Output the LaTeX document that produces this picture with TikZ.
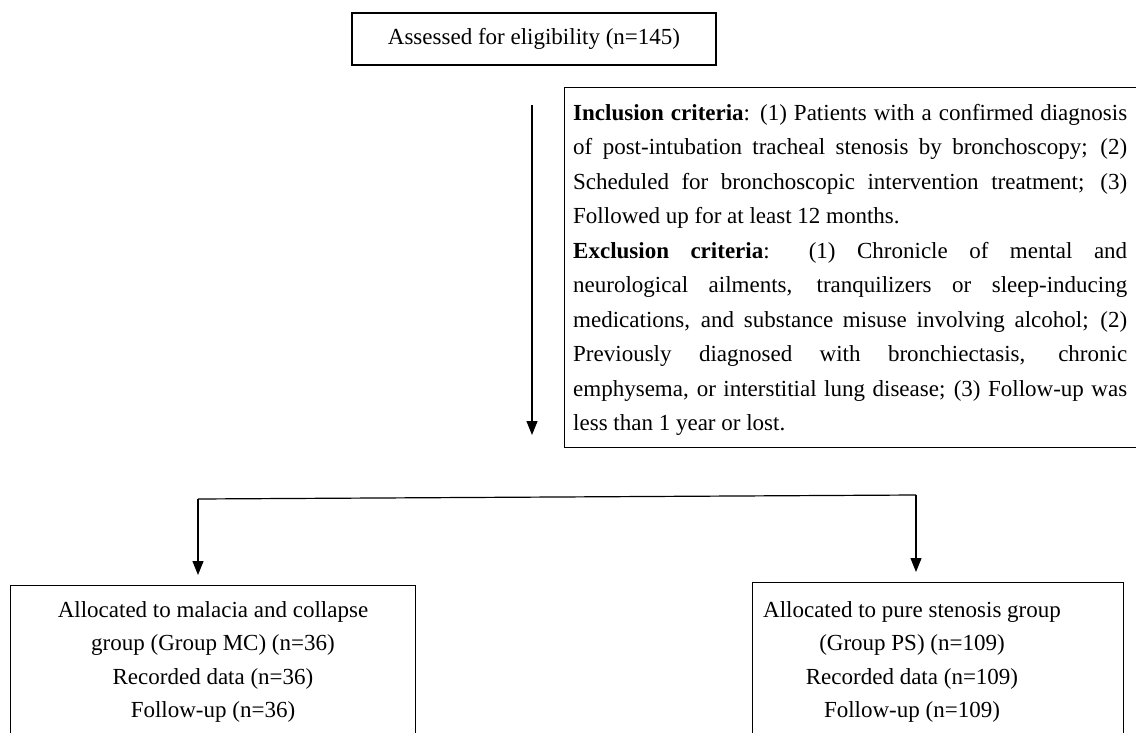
\documentclass[tikz,border=0pt]{standalone}
\usepackage{fontspec}
\setmainfont{Liberation Serif}
\usetikzlibrary{arrows.meta}
\tikzset{
  boxline/.style={draw=black, line width=1.4pt, inner sep=0pt},
  arr/.style={draw=black, line width=1.2pt, -{Triangle[length=14pt,width=11pt]}},
  conn/.style={draw=black, line width=1.2pt},
  txt/.style={inner sep=0pt, font=\fontsize{23}{33.5}\selectfont},
  crit/.style={inner sep=0pt, align=left, font=\fontsize{23}{34.5}\selectfont}
}
\newcommand{\jline}[1]{\makebox[554pt][s]{#1}}
\newcommand{\lline}[1]{\makebox[554pt][l]{#1}}
\begin{document}
\begin{tikzpicture}[x=1pt,y=-1pt]
\useasboundingbox (0,0) rectangle (1136,733);
\clip (0,0) rectangle (1136,733);
\fill[white] (0,0) rectangle (1136,733);

% top box
\node[boxline, minimum width=364pt, minimum height=52pt, font=\fontsize{23}{33.5}\selectfont] (assess) at (534,39) {Assessed for eligibility (n=145)};

% criteria box
\node[boxline, minimum width=600pt, minimum height=360pt, anchor=north west] (critbox) at (564,87) {};
\node[crit, anchor=north west] (crittext) at (573,95.85) {%
\strut\jline{\textbf{Inclusion criteria}: (1) Patients with a confirmed diagnosis}\\
\jline{of post-intubation tracheal stenosis by bronchoscopy; (2)}\\
\jline{Scheduled for bronchoscopic intervention treatment; (3)}\\
\lline{Followed up for at least 12 months.}\\
\jline{\textbf{Exclusion criteria}: (1) Chronicle of mental and}\\
\jline{neurological ailments, tranquilizers or sleep-inducing}\\
\jline{medications, and substance misuse involving alcohol; (2)}\\
\jline{Previously diagnosed with bronchiectasis, chronic}\\
\jline{emphysema, or interstitial lung disease; (3) Follow-up was}\\
\lline{less than 1 year or lost.}};

% main down arrow
\coordinate (dtop) at (532,105);
\coordinate (dbot) at (532,435);
\draw[arr] (dtop) -- (dbot);

% group boxes
\node[boxline, minimum width=405pt, minimum height=200pt, anchor=north west] (mc) at (10,585) {};
\node[boxline, minimum width=371pt, minimum height=200pt, anchor=north west] (ps) at (752,582) {};
\node[txt, align=center, anchor=north] (mctext) at (213,593.5) {\strut Allocated to malacia and collapse\\group (Group MC) (n=36)\\Recorded data (n=36)\\Follow-up (n=36)};
\node[txt, align=center, anchor=north] (pstext) at (912,593.5) {\strut Allocated to pure stenosis group\\(Group PS) (n=109)\\Recorded data (n=109)\\Follow-up (n=109)};

% split connector
\coordinate (hl) at (198,499);
\coordinate (hr) at (916,495);
\draw[conn] (hl) -- (hr);
\draw[arr, shorten >=10pt] (hl) -- (hl |- mc.north);
\draw[arr, shorten >=10pt] (hr) -- (hr |- ps.north);
\end{tikzpicture}
\end{document}
